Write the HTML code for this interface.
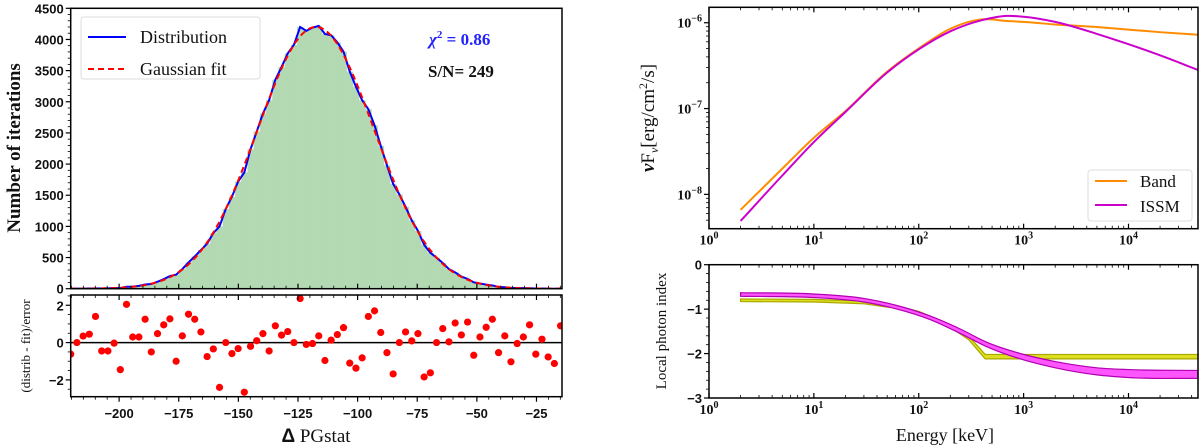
<!DOCTYPE html>
<html><head><meta charset="utf-8"><style>
html,body{margin:0;padding:0;background:#fff;}
svg{display:block;}
.tl{font-family:"Liberation Sans",sans-serif;font-weight:bold;font-size:13px;fill:#111;}
.sr{font-family:"Liberation Serif",serif;fill:#111;}
</style></head><body>
<svg id="c" width="1200" height="448" viewBox="0 0 1200 448" xmlns="http://www.w3.org/2000/svg"></svg>
<script>
// ---- Left chart data ----
const binStart = -221.6;
const binWidth = 2.6;
const gaussMean = -117.5;
const gaussSigma = 24.5;
const gaussAmp = 4200;
const residuals = [-0.62,0,0.35,0.45,1.4,-0.45,-0.45,-0.03,-1.45,2.05,0.3,0.3,1.25,-0.5,0.48,0.95,1.27,-1.0,0.36,1.52,1.25,0.57,-0.75,-0.34,-2.4,0,-0.59,-0.32,-2.66,-0.2,0.1,0.48,-0.45,0.9,0.4,0.59,0,2.36,-0.1,-0.05,0.36,-0.96,0.13,0.43,0.8,-1.1,-1.37,-0.82,1.4,1.7,0.54,-0.54,-1.68,0,0.57,0.09,0.48,-1.84,-1.62,0,0.75,0.04,1.05,0.41,1.1,-0.68,0.3,0.82,1.25,-0.54,0.36,-1.03,-0.05,0.3,0.95,-0.62,0.18,-0.77,-1.12,0.9,0.54];
const xTicksLeft = [-200,-175,-150,-125,-100,-75,-50,-25];
const yTicksMain = [0,500,1000,1500,2000,2500,3000,3500,4000,4500];
const yTicksRes = [-2,0,2];
// ---- Right chart data ----
const energies = [2,5,10,20,50,100,200,400,700,1000,2000,5000,10000,20000,46000];
const bandLogFlux = [-8.18,-7.70,-7.34,-7.03,-6.57,-6.30,-6.07,-5.96,-5.98,-5.99,-6.02,-6.05,-6.08,-6.11,-6.14];
const issmLogFlux = [-8.31,-7.78,-7.39,-7.04,-6.58,-6.31,-6.10,-5.97,-5.92,-5.93,-5.99,-6.13,-6.25,-6.38,-6.55];
const bandIdxE = [2,10,30,60,100,200,300,430,1000,46000];
const bandIdx = [-0.80,-0.81,-0.85,-0.95,-1.08,-1.38,-1.65,-2.07,-2.07,-2.07];
const bandIdxErr = [0.03,0.03,0.03,0.03,0.03,0.03,0.04,0.05,0.05,0.05];
const issmIdxE = [2,10,30,60,130,250,450,900,2000,5000,10000,46000];
const issmIdx = [-0.67,-0.70,-0.80,-0.95,-1.20,-1.50,-1.80,-2.05,-2.25,-2.40,-2.45,-2.47];
const issmIdxErr = [0.04,0.04,0.04,0.04,0.04,0.05,0.05,0.06,0.07,0.08,0.09,0.09];

const NS='http://www.w3.org/2000/svg';
const svg=document.getElementById('c');
function mk(tag,attrs,parent){const e=document.createElementNS(NS,tag);for(const k in attrs)e.setAttribute(k,attrs[k]);(parent||svg).appendChild(e);return e;}
function txt(s,x,y,cls,anchor,size,parent){const t=mk('text',{x:x,y:y,'class':cls,'text-anchor':anchor||'middle','font-size':size||13},parent);t.textContent=s;return t;}

// ---------- LEFT MAIN ----------
const L={x0:70.7,x1:562,xmin:-220.3,xmax:-14.3};
const M={y0:8.3,y1:288.7,ymin:0,ymax:4500};
const R={y0:295,y1:396.7,ymin:-2.9,ymax:2.55};
const lx=v=>L.x0+(v-L.xmin)/(L.xmax-L.xmin)*(L.x1-L.x0);
const my=v=>M.y1-(v-M.ymin)/(M.ymax-M.ymin)*(M.y1-M.y0);
const ry=v=>R.y1-(v-R.ymin)/(R.ymax-R.ymin)*(R.y1-R.y0);
const gauss=x=>gaussAmp*Math.exp(-0.5*Math.pow((x-gaussMean)/gaussSigma,2));

const gMain=mk('g',{});


const clipL=mk('clipPath',{id:'clipL'});mk('rect',{x:L.x0,y:M.y0,width:L.x1-L.x0,height:M.y1-M.y0},clipL);
const gBars=mk('g',{'clip-path':'url(#clipL)'},gMain);
const counts=residuals.map((r,i)=>{const c=binStart+binWidth*(i+0.5);const f=gauss(c);return Math.max(0,f+r*Math.sqrt(f));});
counts.forEach((c,i)=>{
  const xa=lx(binStart+binWidth*i), xb=lx(binStart+binWidth*(i+1));
  const b=mk('rect',{x:xa,y:my(c),width:xb-xa+0.3,height:my(0)-my(c),fill:'#b3d9b3'},gBars);
  
  
});
let dpts=counts.map((c,i)=>lx(binStart+binWidth*(i+0.5))+','+my(c)).join(' ');
const dl=mk('polyline',{points:dpts,fill:'none',stroke:'#0000ff','stroke-width':2},gBars);


let gp=[];for(let x=L.xmin;x<=L.xmax;x+=0.5)gp.push(lx(x)+','+my(gauss(x)));
const gl=mk('polyline',{points:gp.join(' '),fill:'none',stroke:'#ff0000','stroke-width':2,'stroke-dasharray':'6,4'},gBars);


mk('rect',{x:L.x0,y:M.y0,width:L.x1-L.x0,height:M.y1-M.y0,fill:'none',stroke:'#000','stroke-width':1.5},gMain);
yTicksMain.forEach(v=>{mk('line',{x1:L.x0-5,x2:L.x0,y1:my(v),y2:my(v),stroke:'#000','stroke-width':1.2},gMain);
  const t=txt(String(v),L.x0-7,my(v)+5,'tl','end',14,gMain);
  });
for(let v=100;v<4500;v+=100){if(v%500)mk('line',{x1:L.x0-3,x2:L.x0,y1:my(v),y2:my(v),stroke:'#000','stroke-width':0.8},gMain);}
for(let v=-220;v<=-15;v+=5){const mj=v%25===0;mk('line',{x1:lx(v),x2:lx(v),y1:M.y1,y2:M.y1-(mj?5:3),stroke:'#000','stroke-width':mj?1.2:0.8},gMain);}
// legend
const lg=mk('g',{},gMain);
mk('rect',{x:81,y:17,width:179,height:62,rx:3,fill:'#fff',stroke:'#ddd','stroke-width':1},lg);
mk('line',{x1:88,x2:126,y1:37,y2:37,stroke:'#0000ff','stroke-width':2},lg);
txt('Distribution',140,43,'sr','start',18,lg);
mk('line',{x1:88,x2:126,y1:69,y2:69,stroke:'#ff0000','stroke-width':2,'stroke-dasharray':'6,4'},lg);
txt('Gaussian fit',140,75,'sr','start',18,lg);
const chi=mk('text',{x:429,y:45,'class':'sr','font-size':17,'font-weight':'bold',fill:'#2222ff','text-anchor':'start'});

chi.innerHTML='<tspan font-style="italic" fill="#2222ff">χ</tspan><tspan dy="-7" font-size="11" fill="#2222ff">2</tspan><tspan dy="7" fill="#2222ff"> = 0.86</tspan>';
const sn=txt('S/N= 249',428,77,'sr','start',17);sn.setAttribute('font-weight','bold');

const yl=txt('Number of iterations',0,0,'sr','middle',19);yl.setAttribute('transform','translate(20,148) rotate(-90)');yl.setAttribute('font-weight','bold');


// ---------- LEFT RESIDUAL ----------
const gRes=mk('g',{});
const clipR=mk('clipPath',{id:'clipR'});mk('rect',{x:L.x0,y:R.y0,width:L.x1-L.x0,height:R.y1-R.y0},clipR);
const gRc=mk('g',{'clip-path':'url(#clipR)'},gRes);
mk('line',{x1:L.x0,x2:L.x1,y1:ry(0),y2:ry(0),stroke:'#000','stroke-width':1.5},gRc);
residuals.forEach((r,i)=>{const c=mk('circle',{cx:lx(binStart+binWidth*(i+0.5)),cy:ry(r),r:3.6,fill:'#ff0000'},gRc);
  });
mk('rect',{x:L.x0,y:R.y0,width:L.x1-L.x0,height:R.y1-R.y0,fill:'none',stroke:'#000','stroke-width':1.5},gRes);
yTicksRes.forEach(v=>{mk('line',{x1:L.x0-5,x2:L.x0,y1:ry(v),y2:ry(v),stroke:'#000','stroke-width':1.2},gRes);
  const t=txt(v<0?'−'+Math.abs(v):String(v),L.x0-7,ry(v)+5,'tl','end',14,gRes);
  });
for(let v=-2.5;v<=2.5;v+=0.5){if(v%2)mk('line',{x1:L.x0-3,x2:L.x0,y1:ry(v),y2:ry(v),stroke:'#000','stroke-width':0.8},gRes);}
for(let v=-220;v<=-15;v+=5){const mj=v%25===0;mk('line',{x1:lx(v),x2:lx(v),y1:R.y0,y2:R.y0+(mj?5:3),stroke:'#000','stroke-width':mj?1.2:0.8},gRes);
  mk('line',{x1:lx(v),x2:lx(v),y1:R.y1,y2:R.y1+(mj?5:3),stroke:'#000','stroke-width':mj?1.2:0.8},gRes);}
xTicksLeft.forEach(v=>{const t=txt('−'+Math.abs(v),lx(v),418,'tl','middle',15,gRes);
  });
const rl=txt('(distrib - fit)/error',0,0,'sr','middle',13);rl.setAttribute('transform','translate(30,346) rotate(-90)');

const xl=mk('text',{x:316,y:442,'class':'sr','text-anchor':'middle','font-size':19});
xl.innerHTML='<tspan font-weight="bold" font-family="Liberation Sans">Δ</tspan> PGstat';


// ---------- RIGHT ----------
const E={x0:709,x1:1198,lmin:0,lmax:Math.log10(46000)};
const ex=e=>E.x0+(Math.log10(e)-E.lmin)/(E.lmax-E.lmin)*(E.x1-E.x0);
const T={y0:7.3,y1:228.7,lmin:-8.4,lmax:-5.82};
const ty=l=>T.y1-(l-T.lmin)/(T.lmax-T.lmin)*(T.y1-T.y0);
const B={y0:264.7,y1:398,min:-3,max:0};
const by=v=>B.y1-(v-B.min)/(B.max-B.min)*(B.y1-B.y0);
function smoothPath(xs,ys){ // cubic Hermite with nonuniform x
  const n=xs.length;const sec=[];for(let i=0;i<n-1;i++)sec.push((ys[i+1]-ys[i])/(xs[i+1]-xs[i]));
  const m=[];for(let i=0;i<n;i++){if(i===0)m.push(sec[0]);else if(i===n-1)m.push(sec[n-2]);
    else{const h0=xs[i]-xs[i-1],h1=xs[i+1]-xs[i];m.push((sec[i-1]*h1+sec[i]*h0)/(h0+h1));}}
  let d='M'+xs[0]+','+ys[0];
  for(let i=0;i<n-1;i++){const h=xs[i+1]-xs[i];
    d+=' C'+(xs[i]+h/3)+','+(ys[i]+m[i]*h/3)+' '+(xs[i+1]-h/3)+','+(ys[i+1]-m[i+1]*h/3)+' '+xs[i+1]+','+ys[i+1];}
  return d;}
function logAxisTicks(g,y0,y1){
  for(let dec=0;dec<=4;dec++){for(let m=1;m<10;m++){const e=m*Math.pow(10,dec);if(e>46000)break;const mj=m===1;
    mk('line',{x1:ex(e),x2:ex(e),y1:y1,y2:y1-(mj?5:3),stroke:'#000','stroke-width':mj?1.2:0.8},g);
    mk('line',{x1:ex(e),x2:ex(e),y1:y0,y2:y0+(mj?5:3),stroke:'#000','stroke-width':mj?1.2:0.8},g);
    if(mj){const t=mk('text',{x:ex(e),y:y1+16,'class':'sr','text-anchor':'middle','font-size':14,'font-weight':'bold'},g);
      t.innerHTML='10<tspan dy="-6" font-size="10">'+dec+'</tspan>';
      }}}}
// top spectrum
const gT=mk('g',{});
const bp=mk('path',{d:smoothPath(energies.map(ex),bandLogFlux.map(ty)),fill:'none',stroke:'#ff8c00','stroke-width':2},gT);

const ip=mk('path',{d:smoothPath(energies.map(ex),issmLogFlux.map(ty)),fill:'none',stroke:'#cc00cc','stroke-width':2},gT);

mk('rect',{x:E.x0,y:T.y0,width:E.x1-E.x0,height:T.y1-T.y0,fill:'none',stroke:'#000','stroke-width':1.5},gT);
logAxisTicks(gT,T.y0,T.y1);
[-8,-7,-6].forEach(l=>{mk('line',{x1:E.x0-5,x2:E.x0,y1:ty(l),y2:ty(l),stroke:'#000','stroke-width':1.2},gT);
  const t=mk('text',{x:E.x0-7,y:ty(l)+5,'class':'sr','text-anchor':'end','font-size':14,'font-weight':'bold'},gT);
  t.innerHTML='10<tspan dy="-6" font-size="10">−'+Math.abs(l)+'</tspan>';
  
  for(let m=2;m<10;m++){const v=l+Math.log10(m);if(v<T.lmax&&v>T.lmin)mk('line',{x1:E.x0-3,x2:E.x0,y1:ty(v),y2:ty(v),stroke:'#000','stroke-width':0.8},gT);}});
for(let m=5;m<10;m++){const v=-9+Math.log10(m);if(v>T.lmin)mk('line',{x1:E.x0-3,x2:E.x0,y1:ty(v),y2:ty(v),stroke:'#000','stroke-width':0.8},gT);}
const rlg=mk('g',{},gT);
mk('rect',{x:1088,y:170,width:104,height:51,rx:3,fill:'#fff',stroke:'#ddd'},rlg);
mk('line',{x1:1095,x2:1127,y1:181,y2:181,stroke:'#ff8c00','stroke-width':2},rlg);
txt('Band',1140,187,'sr','start',17,rlg);
mk('line',{x1:1095,x2:1127,y1:205,y2:205,stroke:'#cc00cc','stroke-width':2},rlg);
txt('ISSM',1140,212,'sr','start',17,rlg);
const fy=mk('text',{x:0,y:0,'class':'sr','text-anchor':'middle','font-size':19,transform:'translate(654,118) rotate(-90)'});
fy.innerHTML='<tspan font-weight="bold" font-style="italic">ν</tspan>F<tspan font-size="12" dy="4" font-style="italic">ν</tspan><tspan dy="-4">[erg/cm</tspan><tspan font-size="12" dy="-7">2</tspan><tspan dy="7">/s]</tspan>';

// bottom photon index
const gB=mk('g',{});
function bandArea(Es,vals,errs,fill,edge,name){
  const xs=Es.map(ex);
  const up=smoothPath(xs,vals.map((v,i)=>by(v+errs[i])));
  const lo=smoothPath(xs.slice().reverse(),vals.map((v,i)=>by(v-errs[i])).reverse());
  const a=mk('path',{d:up+' L'+lo.slice(1)+' Z',fill:fill,stroke:edge,'stroke-width':1.2},gB);
  }
(function(){const xs=bandIdxE.map(ex);
  let up=xs.map((x,i)=>x+','+by(bandIdx[i]+bandIdxErr[i]));let lo=xs.map((x,i)=>x+','+by(bandIdx[i]-bandIdxErr[i])).reverse();
  const a=mk('polygon',{points:up.concat(lo).join(' '),fill:'#dede20',stroke:'#a8a800','stroke-width':1.2},gB);
  })();
bandArea(issmIdxE,issmIdx,issmIdxErr,'#ff55ff','#b000b0','issm-photon-index-area');
mk('rect',{x:E.x0,y:B.y0,width:E.x1-E.x0,height:B.y1-B.y0,fill:'none',stroke:'#000','stroke-width':1.5},gB);
logAxisTicks(gB,B.y0,B.y1);
[0,-1,-2,-3].forEach(v=>{mk('line',{x1:E.x0-5,x2:E.x0,y1:by(v),y2:by(v),stroke:'#000','stroke-width':1.2},gB);
  const t=txt(v<0?'−'+Math.abs(v):'0',E.x0-7,by(v)+5,'tl','end',14,gB);
  });
for(let v=-2.8;v<0;v+=0.2){if(Math.abs(v-Math.round(v))>0.05)mk('line',{x1:E.x0-3,x2:E.x0,y1:by(v),y2:by(v),stroke:'#000','stroke-width':0.8},gB);}
const iy=txt('Local photon index',0,0,'sr','middle',15);iy.setAttribute('transform','translate(666,331) rotate(-90)');

const exl=txt('Energy [keV]',945,441,'sr','middle',18);

</script>
</body></html>
